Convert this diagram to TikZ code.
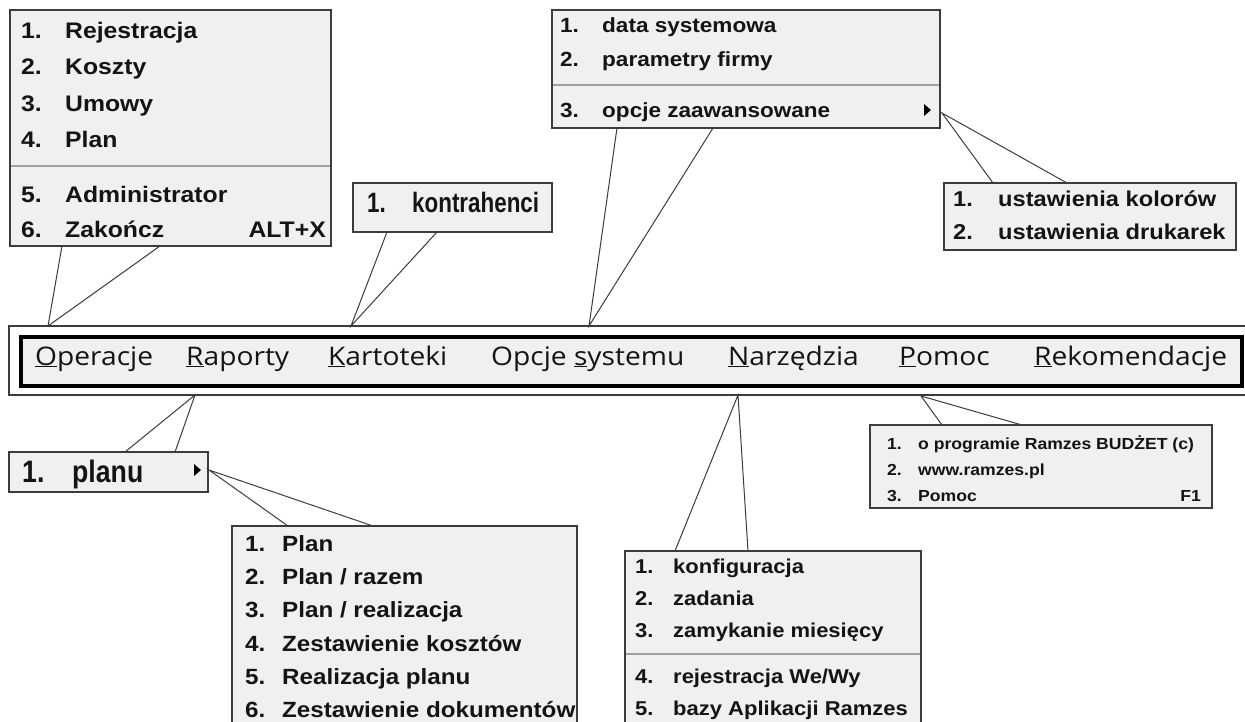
\documentclass[tikz,border=0pt]{standalone}
\usepackage{fontspec}
\newfontfamily\fw{Liberation Sans}[FakeStretch=1.1]
\newfontfamily\fnarrow{Liberation Sans}[FakeStretch=0.8]
\newfontfamily\fmid{Liberation Sans}[FakeStretch=0.86]
\newfontfamily\fbar{Open Sans}[FakeStretch=1.1]
\definecolor{menufill}{HTML}{F0F0F0}
\definecolor{menuline}{HTML}{3C3C3C}
\definecolor{sepline}{HTML}{A0A0A0}
\definecolor{txtc}{HTML}{141414}
\newcommand\mkey[1]{\underline{#1}}
\begin{document}
\begin{tikzpicture}[x=1pt,y=-1pt,
  menubox/.style={draw=menuline, line width=1.3pt, fill=menufill, inner sep=0pt, outer sep=0pt, anchor=north west},
  sepl/.style={draw=sepline, line width=1.6pt},
  tail/.style={draw=menuline, line width=1pt},
  mt/.style={anchor=base west, inner sep=0pt, text=txtc},
  fa/.style={font=\fw\bfseries\fontsize{22.5}{26}\selectfont},
  fb/.style={font=\fnarrow\bfseries\fontsize{28}{32}\selectfont},
  fc/.style={font=\fw\bfseries\fontsize{20.5}{24}\selectfont},
  fd/.style={font=\fw\bfseries\fontsize{21.5}{25}\selectfont},
  fe/.style={font=\fmid\bfseries\fontsize{31}{34}\selectfont},
  ff/.style={font=\fw\bfseries\fontsize{22}{26}\selectfont},
  fg/.style={font=\fw\bfseries\fontsize{20}{24}\selectfont},
  fh/.style={font=\fw\bfseries\fontsize{16}{20}\selectfont},
  barword/.style={anchor=base west, inner sep=0pt, text=txtc, font=\fbar\fontsize{25.6}{30}\selectfont},
  arrowtri/.style={fill=black}
]
\useasboundingbox (0,0) rectangle (1245,722);
\fill[white] (0,0) rectangle (1245,722);

% ---------- menu bar ----------
\draw[menuline, line width=1.3pt] (1260,326) -- (9,326) -- (9,395) -- (1260,395);
\node[draw=black, line width=4pt, fill=menufill, minimum width=1221pt, minimum height=49pt, inner sep=0pt, outer sep=0pt, anchor=north west] (bar) at (21,337) {};
\node[barword] (mOp) at (35,365) {\mkey{O}peracje};
\node[barword] (mRa) at (186,365) {\mkey{R}aporty};
\node[barword] (mKa) at (328,365) {\mkey{K}artoteki};
\node[barword] (mOs) at (491,365) {Opcje \mkey{s}ystemu};
\node[barword] (mNa) at (728,365) {\mkey{N}arzędzia};
\node[barword] (mPo) at (899,365) {\mkey{P}omoc};
\node[barword] (mRe) at (1034,365) {\mkey{R}ekomendacje};

% ---------- menu A : Operacje ----------
\node[menubox, minimum width=321pt, minimum height=236pt] (A) at (10,10) {};
\draw[sepl] (11,166) -- (330,166);
\foreach \n/\t/\y in {1/Rejestracja/39, 2/Koszty/75, 3/Umowy/112, 4/Plan/148, 5/Administrator/203, 6/Zakończ/238}{
  \node[mt, fa] (A\n n) at (21,\y) {\n.};
  \node[mt, fa] (A\n) at (65,\y) {\t};
}
\node[anchor=base east, inner sep=0pt, text=txtc, fa] (A6k) at (326,238) {ALT+X};
\coordinate (Ata) at (62,246);
\coordinate (Atb) at (160,246);
\coordinate (Atip) at (48,326);
\draw[tail] (Ata) -- (Atip) -- (Atb);

% ---------- menu B : Kartoteki ----------
\node[menubox, minimum width=199pt, minimum height=49pt] (B) at (353,183) {};
\node[mt, fb] (B1n) at (367,213) {1.};
\node[mt, fb] (B1) at (412,213) {kontrahenci};
\coordinate (Bta) at (387,232);
\coordinate (Btb) at (437,232);
\coordinate (Btip) at (351,326);
\draw[tail] (Bta) -- (Btip) -- (Btb);

% ---------- menu C : Opcje systemu ----------
\node[menubox, minimum width=388pt, minimum height=118pt] (C) at (552,10) {};
\draw[sepl] (553,85) -- (939,85);
\foreach \n/\t/\y in {1/data systemowa/33, 2/parametry firmy/67, 3/opcje zaawansowane/118}{
  \node[mt, fc] (C\n n) at (560,\y) {\n.};
  \node[mt, fc] (C\n) at (602,\y) {\t};
}
\fill[arrowtri] (924,104) -- (931,110) -- (924,116) -- cycle;
\coordinate (Cta) at (617,128);
\coordinate (Ctb) at (713,128);
\coordinate (Ctip) at (589,326);
\draw[tail] (Cta) -- (Ctip) -- (Ctb);

% ---------- menu D : opcje zaawansowane ----------
\node[menubox, minimum width=292pt, minimum height=67pt] (D) at (944,183) {};
\foreach \n/\t/\y in {1/ustawienia kolorów/207, 2/ustawienia drukarek/240}{
  \node[mt, fd] (D\n n) at (953,\y) {\n.};
  \node[mt, fd] (D\n) at (998,\y) {\t};
}
\coordinate (Dta) at (993,183);
\coordinate (Dtb) at (1067,183);
\coordinate (Dtip) at (942,113);
\draw[tail] (Dta) -- (Dtip) -- (Dtb);

% ---------- menu E : Raporty ----------
\node[menubox, minimum width=199pt, minimum height=40pt] (E) at (9,452) {};
\node[mt, fe] (E1n) at (22,482) {1.};
\node[mt, fe] (E1) at (72,482) {planu};
\fill[arrowtri] (194,464) -- (201,470) -- (194,476) -- cycle;
\coordinate (Eta) at (125,452);
\coordinate (Etb) at (175,452);
\coordinate (Etip) at (195,395);
\draw[tail] (Eta) -- (Etip) -- (Etb);

% ---------- menu F : planu ----------
\node[menubox, minimum width=345pt, minimum height=220pt] (F) at (232,526) {};
\foreach \n/\t/\y in {1/Plan/551, 2/{Plan / razem}/584, 3/{Plan / realizacja}/617, 4/Zestawienie kosztów/651, 5/Realizacja planu/684, 6/Zestawienie dokumentów/717}{
  \node[mt, ff] (F\n n) at (245,\y) {\n.};
  \node[mt, ff] (F\n) at (282,\y) {\t};
}
\coordinate (Fta) at (288,526);
\coordinate (Ftb) at (373,526);
\coordinate (Ftip) at (209,470);
\draw[tail] (Fta) -- (Ftip) -- (Ftb);

% ---------- menu G : Narzedzia ----------
\node[menubox, minimum width=296pt, minimum height=200pt] (G) at (625,551) {};
\draw[sepl] (626,654) -- (920,654);
\foreach \n/\t/\y in {1/konfiguracja/573, 2/zadania/605, 3/zamykanie miesięcy/637, 4/{rejestracja We/Wy}/683, 5/bazy Aplikacji Ramzes/715}{
  \node[mt, fg] (G\n n) at (635,\y) {\n.};
  \node[mt, fg] (G\n) at (673,\y) {\t};
}
\coordinate (Gta) at (675,551);
\coordinate (Gtb) at (748,551);
\coordinate (Gtip) at (738,395);
\draw[tail] (Gta) -- (Gtip) -- (Gtb);

% ---------- menu H : Pomoc ----------
\node[menubox, minimum width=342pt, minimum height=83pt] (H) at (870,425) {};
\foreach \n/\t/\y in {1/o programie Ramzes BUDŻET (c)/449, 2/www.ramzes.pl/475, 3/Pomoc/501}{
  \node[mt, fh] (H\n n) at (887,\y) {\n.};
  \node[mt, fh] (H\n) at (918,\y) {\t};
}
\node[anchor=base east, inner sep=0pt, text=txtc, fh] (H3k) at (1201,501) {F1};
\coordinate (Hta) at (942,425);
\coordinate (Htb) at (1022,425);
\coordinate (Htip) at (921,396);
\draw[tail] (Hta) -- (Htip) -- (Htb);
\end{tikzpicture}
\end{document}
